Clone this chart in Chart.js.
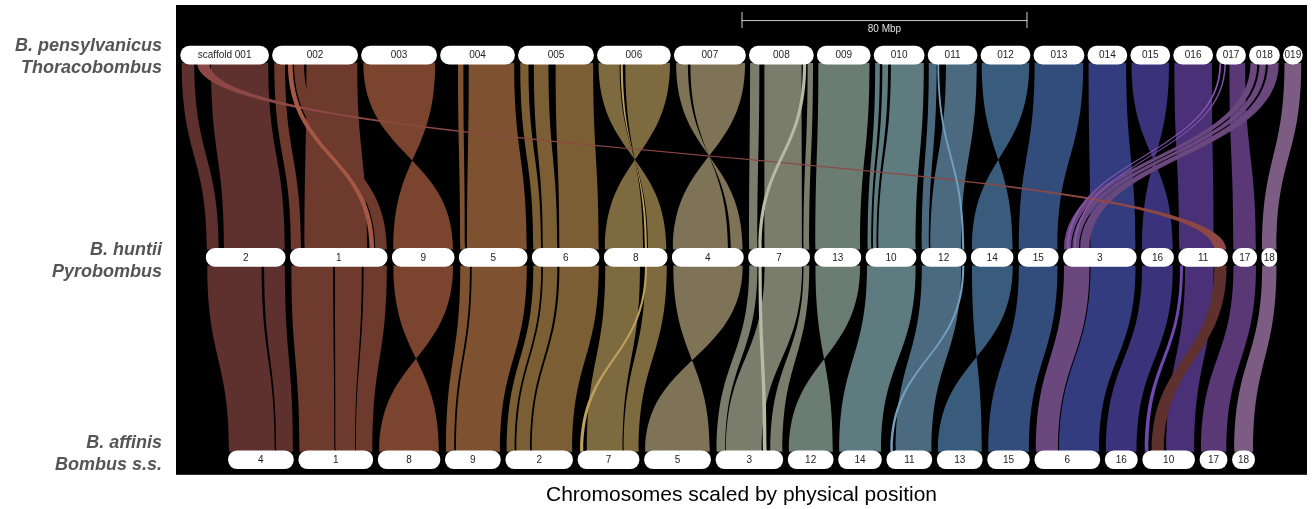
<!DOCTYPE html>
<html>
<head>
<meta charset="utf-8">
<script src="https://cdn.jsdelivr.net/npm/chart.js@4.4.0/dist/chart.umd.min.js"></script>
<style>
  html, body { margin: 0; padding: 0; background: #fff; }
  #wrap { width: 1312px; height: 509px; position: relative; }
</style>
</head>
<body>
<div id="wrap"><canvas id="synteny"></canvas></div>
<script>
// genomes, top to bottom
var genomes = [['B. pensylvanicus', 'Thoracobombus'], ['B. huntii', 'Pyrobombus'], ['B. affinis', 'Bombus s.s.']];

// chromosome names and lengths (Mbp), in plotted order
var topLabels = ['scaffold 001', '002', '003', '004', '005', '006', '007', '008', '009', '010',
                 '011', '012', '013', '014', '015', '016', '017', '018', '019'];
var topLengths = [24.6, 23.8, 21.0, 20.7, 21.0, 20.4, 19.9, 17.9, 14.8, 14.0,
                  13.7, 13.7, 14.0, 10.9, 10.9, 10.9, 8.1, 8.4, 5.3];
var midLabels = ['2', '1', '9', '5', '6', '8', '4', '7', '13', '10', '12', '14', '15', '3', '16', '11', '17', '18'];
var midLengths = [22.1, 27.1, 17.3, 19.0, 18.7, 17.6, 19.9, 17.1, 12.9, 14.0, 12.6, 11.7, 11.2, 20.4, 9.0, 13.7, 6.7, 4.2];
var botLabels = ['4', '1', '8', '9', '2', '7', '5', '3', '12', '14', '11', '13', '15', '6', '16', '10', '17', '18'];
var botLengths = [18.2, 20.7, 17.3, 15.4, 18.7, 17.1, 18.5, 18.7, 12.6, 12.0, 12.6, 12.6, 11.7, 18.2, 9.0, 14.5, 7.6, 6.2];

// syntenic blocks top -> middle: [top, start, end, middle, start, end, inverted, highlighted]
var upperLinks = [
  ['001', 0.3, 3.8, '2', 0.2, 3.5, 0, 0],
  ['001', 8.5, 24.5, '2', 5.0, 22.0, 0, 0],
  ['002', 0.5, 3.5, '1', 0.2, 3.0, 0, 0],
  ['002', 9.5, 23.7, '1', 4.0, 21.5, 0, 0],
  ['002', 6.0, 8.8, '1', 23.8, 27.0, 0, 0],
  ['003', 0.5, 20.6, '9', 0.3, 17.0, 1, 0],
  ['004', 4.9, 6.4, '5', 0.3, 1.6, 0, 0],
  ['004', 7.9, 20.6, '5', 2.2, 18.9, 0, 0],
  ['005', 0.5, 2.8, '6', 0.3, 2.5, 0, 0],
  ['005', 4.3, 8.4, '6', 3.0, 7.0, 0, 0],
  ['005', 10.4, 20.9, '6', 7.6, 18.6, 0, 0],
  ['006', 0.3, 6.2, '8', 12.3, 17.4, 1, 0],
  ['006', 7.8, 20.3, '8', 0.2, 10.9, 1, 0],
  ['007', 0.5, 3.8, '4', 16.4, 19.7, 1, 0],
  ['007', 4.5, 19.8, '4', 0.2, 15.6, 1, 0],
  ['008', 0.2, 2.8, '7', 0.2, 2.5, 0, 0],
  ['008', 4.2, 14.6, '7', 4.5, 15.0, 0, 0],
  ['008', 16.3, 17.8, '7', 15.4, 17.0, 0, 0],
  ['009', 0.3, 14.6, '13', 0.2, 12.7, 0, 0],
  ['010', 0.3, 1.6, '10', 0.5, 1.5, 0, 0],
  ['010', 2.3, 3.9, '10', 2.0, 3.0, 0, 0],
  ['010', 4.7, 13.9, '10', 3.5, 13.9, 0, 0],
  ['011', 0.2, 2.4, '12', 0.2, 2.2, 0, 0],
  ['011', 5.0, 13.6, '12', 2.6, 11.2, 0, 0],
  ['012', 0.2, 13.5, '14', 0.2, 11.6, 1, 0],
  ['013', 0.2, 13.8, '15', 0.2, 11.0, 0, 0],
  ['014', 0.2, 10.7, '3', 7.6, 20.2, 0, 0],
  ['015', 0.2, 10.7, '16', 0.2, 8.8, 1, 0],
  ['016', 0.2, 10.7, '11', 0.2, 9.8, 0, 0],
  ['017', 3.6, 8.0, '17', 0.2, 6.5, 0, 0],
  ['018', 0.3, 2.2, '3', 0.2, 2.2, 0, 0],
  ['018', 2.8, 4.6, '3', 2.5, 4.4, 0, 0],
  ['018', 5.2, 8.2, '3', 4.7, 7.3, 0, 0],
  ['019', 0.3, 5.0, '18', 0.1, 4.1, 0, 0],
  ['001', 4.6, 8.0, '11', 10.0, 13.4, 0, 1],
  ['002', 4.3, 5.6, '1', 22.2, 23.5, 0, 1],
  ['006', 6.5, 7.1, '8', 11.4, 12.0, 1, 1],
  ['008', 15.0, 15.9, '7', 2.8, 3.7, 0, 1],
  ['011', 2.6, 3.1, '12', 11.5, 12.1, 0, 1],
  ['017', 0.8, 1.3, '3', 1.0, 1.6, 0, 1],
  ['017', 2.2, 2.6, '3', 3.0, 3.5, 0, 1]
];

// syntenic blocks middle -> bottom: [middle, start, end, bottom, start, end, inverted, origin on top, highlighted]
var lowerLinks = [
  ['2', 0.3, 15.5, '4', 0.2, 13.0, 0, '001', 0],
  ['2', 16.2, 22.0, '4', 13.4, 18.1, 0, '001', 0],
  ['1', 0.3, 12.0, '1', 0.2, 10.0, 0, '002', 0],
  ['1', 12.5, 20.0, '1', 10.3, 15.8, 0, '002', 0],
  ['1', 20.5, 27.0, '1', 16.0, 20.6, 0, '002', 0],
  ['9', 0.3, 17.0, '8', 0.3, 17.0, 1, '003', 0],
  ['5', 0.3, 3.0, '9', 0.2, 2.5, 0, '004', 0],
  ['5', 3.5, 18.9, '9', 3.0, 15.3, 0, '004', 0],
  ['6', 0.3, 2.5, '2', 0.3, 2.5, 0, '005', 0],
  ['6', 3.0, 7.0, '2', 3.0, 6.8, 0, '005', 0],
  ['6', 7.6, 18.6, '2', 7.3, 18.6, 0, '005', 0],
  ['8', 0.3, 10.0, '7', 2.5, 12.5, 0, '006', 0],
  ['8', 11.5, 17.5, '7', 12.8, 17.0, 0, '006', 0],
  ['4', 0.3, 19.7, '5', 0.2, 18.3, 1, '007', 0],
  ['7', 0.2, 2.5, '3', 0.2, 2.6, 0, '008', 0],
  ['7', 4.5, 15.0, '3', 2.8, 12.8, 0, '008', 0],
  ['7', 15.4, 17.0, '3', 15.2, 18.6, 0, '008', 0],
  ['13', 0.2, 12.7, '12', 0.2, 12.5, 1, '009', 0],
  ['10', 0.3, 13.9, '14', 0.2, 11.9, 0, '010', 0],
  ['12', 0.2, 11.2, '11', 2.5, 12.5, 0, '011', 0],
  ['14', 0.2, 11.6, '13', 0.2, 12.5, 1, '012', 0],
  ['15', 0.2, 11.0, '15', 0.2, 11.6, 0, '013', 0],
  ['3', 0.2, 7.3, '6', 0.3, 6.5, 0, '018', 0],
  ['3', 7.6, 20.2, '6', 6.8, 18.0, 0, '014', 0],
  ['16', 0.2, 8.8, '16', 0.2, 8.8, 0, '015', 0],
  ['11', 1.8, 9.8, '10', 6.6, 14.4, 0, '016', 0],
  ['11', 10.0, 13.4, '10', 2.5, 5.9, 0, '001', 0],
  ['17', 0.2, 6.5, '17', 0.3, 7.4, 0, '017', 0],
  ['18', 0.1, 4.1, '18', 0.5, 5.8, 0, '019', 0],
  ['8', 11.4, 12.0, '7', 0.6, 1.5, 0, '006', 1],
  ['7', 2.8, 3.7, '3', 13.2, 14.2, 0, '008', 1],
  ['12', 11.5, 12.1, '11', 1.0, 1.7, 0, '011', 1],
  ['11', 0.4, 1.2, '10', 0.6, 1.6, 0, '016', 1]
];

var scaleBarMbp = 80;

// one colour per top-genome chromosome
var PALETTE = ['#5e302e', '#6e3a2e', '#7a442f', '#7e5230', '#7c5e34', '#7d6a3e', '#7e7257', '#7a7c6c',
               '#6b7d72', '#5e7c80', '#4b6a7f', '#3a5c7c', '#324c7c', '#323c7e', '#3a327a', '#4a3076',
               '#5a3876', '#6a487e', '#7c5c82'];

var X_MAX = 316.4;
var CENTER = X_MAX / 2;
var ROW_GAPS = [1.1, 1.43, 1.5];
var PILL_H = 18;

function layoutRow(lengths, gap) {
  var total = lengths.reduce(function (a, b) { return a + b; }, 0) + gap * (lengths.length - 1);
  var s = CENTER - total / 2;
  return lengths.map(function (len) {
    var r = [s, s + len];
    s += len + gap;
    return r;
  });
}

var rows = [
  { labels: topLabels, pos: layoutRow(topLengths, ROW_GAPS[0]) },
  { labels: midLabels, pos: layoutRow(midLengths, ROW_GAPS[1]) },
  { labels: botLabels, pos: layoutRow(botLengths, ROW_GAPS[2]) }
];

function findChrom(labels, id) {
  return labels.findIndex(function (l) { return l === id || l.endsWith(' ' + id); });
}

function brighten(hex, f) {
  var n = parseInt(hex.slice(1), 16);
  var c = [(n >> 16) & 255, (n >> 8) & 255, n & 255].map(function (v) { return Math.min(255, Math.round(v * f)); });
  return 'rgb(' + c.join(',') + ')';
}

// pills as floating horizontal bars
var pillData = [];
rows.forEach(function (row, r) {
  row.pos.forEach(function (p, i) {
    pillData.push({ x: [p[0], p[1]], y: r, name: row.labels[i] });
  });
});

function ribbon(ctx, xa1, xb1, y1, xa2, xb2, y2) {
  var ym = (y1 + y2) / 2;
  ctx.beginPath();
  ctx.moveTo(xa1, y1);
  ctx.bezierCurveTo(xa1, ym, xa2, ym, xa2, y2);
  ctx.lineTo(xb2, y2);
  ctx.bezierCurveTo(xb2, ym, xb1, ym, xb1, y1);
  ctx.closePath();
  ctx.fill();
}

var syntenyPlugin = {
  id: 'synteny',
  beforeDatasetsDraw: function (chart) {
    var ctx = chart.ctx, area = chart.chartArea, xs = chart.scales.x, ys = chart.scales.y;
    ctx.save();
    ctx.fillStyle = '#000';
    ctx.fillRect(area.left, area.top, area.right - area.left, area.bottom - area.top);

    function drawLinks(links, rA, rB, originCol, hlCol) {
      var rowA = rows[rA], rowB = rows[rB];
      var y1 = ys.getPixelForValue(rA) + PILL_H / 2 - 1;
      var y2 = ys.getPixelForValue(rB) - PILL_H / 2 + 1;
      [0, 1].forEach(function (pass) {
        links.forEach(function (l) {
          if ((l[hlCol] ? 1 : 0) !== pass) return;
          var a = findChrom(rowA.labels, l[0]), b = findChrom(rowB.labels, l[3]);
          var oa = rowA.pos[a][0], ob = rowB.pos[b][0];
          var xa1 = xs.getPixelForValue(oa + l[1]), xb1 = xs.getPixelForValue(oa + l[2]);
          var xa2 = xs.getPixelForValue(ob + l[4]), xb2 = xs.getPixelForValue(ob + l[5]);
          var origin = findChrom(topLabels, originCol === null ? l[0] : l[originCol]);
          var col = PALETTE[origin];
          ctx.fillStyle = l[hlCol] ? brighten(col, 1.5) : col;
          if (l[6]) ribbon(ctx, xa1, xb1, y1, xb2, xa2, y2);
          else ribbon(ctx, xa1, xb1, y1, xa2, xb2, y2);
        });
      });
    }
    drawLinks(upperLinks, 0, 1, null, 7);
    drawLinks(lowerLinks, 1, 2, 7, 8);
    ctx.restore();
  },
  afterDatasetsDraw: function (chart) {
    var ctx = chart.ctx, xs = chart.scales.x, ys = chart.scales.y, area = chart.chartArea;
    ctx.save();
    // chromosome names
    ctx.fillStyle = '#222';
    ctx.font = '10px "Liberation Sans", Arial, sans-serif';
    ctx.textAlign = 'center';
    ctx.textBaseline = 'middle';
    pillData.forEach(function (d) {
      ctx.fillText(d.name, xs.getPixelForValue((d.x[0] + d.x[1]) / 2), ys.getPixelForValue(d.y) + 0.5);
    });

    // scale bar
    var bx0 = xs.getPixelForValue(CENTER), bx1 = xs.getPixelForValue(CENTER + scaleBarMbp);
    var by = ys.getPixelForValue(0) - 35;
    ctx.strokeStyle = '#cfcfcf';
    ctx.lineWidth = 1;
    ctx.beginPath();
    ctx.moveTo(bx0, by + 0.5); ctx.lineTo(bx1, by + 0.5);
    ctx.moveTo(bx0 + 0.5, by - 8); ctx.lineTo(bx0 + 0.5, by + 8);
    ctx.moveTo(bx1 - 0.5, by - 8); ctx.lineTo(bx1 - 0.5, by + 8);
    ctx.stroke();
    ctx.fillStyle = '#e0e0e0';
    ctx.font = '10px "Liberation Sans", Arial, sans-serif';
    ctx.fillText(scaleBarMbp + ' Mbp', (bx0 + bx1) / 2, by + 9);

    // genome names
    var offs = [[-9, 13], [-7, 15], [-17, 5]];
    ctx.fillStyle = '#555';
    ctx.font = 'italic bold 18px "Liberation Sans", Arial, sans-serif';
    ctx.textAlign = 'right';
    genomes.forEach(function (g, r) {
      var py = ys.getPixelForValue(r);
      ctx.fillText(g[0], area.left - 14, py + offs[r][0]);
      ctx.fillText(g[1], area.left - 14, py + offs[r][1]);
    });
    ctx.restore();
  }
};

new Chart(document.getElementById('synteny'), {
  type: 'bar',
  data: {
    datasets: [{
      data: pillData,
      backgroundColor: '#fff',
      borderWidth: 0,
      borderRadius: PILL_H / 2,
      borderSkipped: false,
      barThickness: PILL_H,
      grouped: false
    }]
  },
  options: {
    indexAxis: 'y',
    responsive: true,
    maintainAspectRatio: false,
    animation: false,
    devicePixelRatio: 1,
    layout: { padding: { left: 176, right: 5, top: 5, bottom: 0 } },
    scales: {
      x: { type: 'linear', min: 0, max: X_MAX, display: false, offset: false },
      y: { type: 'linear', min: -0.2475, max: 2.0743, reverse: true, display: false, offset: false }
    },
    plugins: {
      legend: { display: false },
      tooltip: { enabled: false },
      title: {
        display: true,
        position: 'bottom',
        text: 'Chromosomes scaled by physical position',
        color: '#000',
        font: { size: 21, family: '"Liberation Sans", Arial, sans-serif', weight: 'normal' },
        padding: { top: 8, bottom: 1 }
      }
    }
  },
  plugins: [syntenyPlugin]
});
</script>
</body>
</html>
